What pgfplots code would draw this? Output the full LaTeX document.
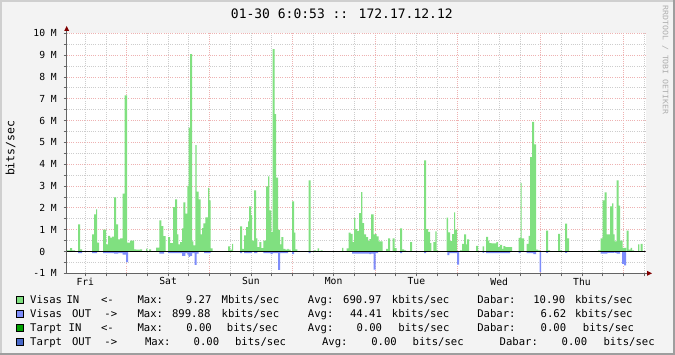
\documentclass[border=0pt]{standalone}
\usepackage{pgfplots}
\pgfplotsset{compat=1.18}
\usepackage{graphicx}
\usepackage{fontspec}
\newfontfamily\mono{DejaVu Sans Mono}
\newcommand\tickfont{\mono\fontsize{9.7}{11}\selectfont}
\newcommand\legfont{\mono\fontsize{10.6}{13}\selectfont}
\definecolor{bg}{RGB}{243,243,243}
\definecolor{shadea}{RGB}{207,207,207}
\definecolor{shadeb}{RGB}{158,158,158}
\definecolor{vgreen}{RGB}{128,224,128}
\definecolor{vblue}{RGB}{125,140,250}
\definecolor{tgreen}{RGB}{0,160,0}
\definecolor{tblue}{RGB}{72,104,200}
\definecolor{mgrid}{RGB}{238,178,178}
\definecolor{mingrid}{RGB}{205,205,205}
\definecolor{axisc}{RGB}{100,100,100}
\definecolor{arrowc}{RGB}{128,0,0}
\definecolor{wm}{RGB}{175,175,175}
\begin{document}
\begin{tikzpicture}[x=1pt,y=1pt]
\useasboundingbox (0,0) rectangle (675,355);
\fill[bg] (0,0) rectangle (675,355);
\fill[shadea] (0,0) rectangle (2,355);
\fill[shadea] (0,353) rectangle (675,355);
\fill[shadeb] (673,0) rectangle (675,355);
\fill[shadeb] (0,0) rectangle (675,2);

\node[anchor=base, inner sep=0pt, font=\mono\fontsize{13}{15}\selectfont] at (341.8,336.9) {01-30 6:0:53 :: 172.17.12.12};
\node[rotate=90, inner sep=0pt, font=\mono\fontsize{11.5}{13}\selectfont] at (10.5,206.7) {bits/sec};
\node[rotate=-90, inner sep=0pt, text=wm, font=\mono\fontsize{7.5}{8}\selectfont] at (665.3,295) {\scalebox{1.1}[1]{RRDTOOL / TOBI OETIKER}};

\begin{axis}[
  at={(66.7pt,81.7pt)}, anchor=south west,
  scale only axis, width=578.8pt, height=240pt,
  xmin=66.7, xmax=645.5, ymin=-1, ymax=10,
  axis line style={draw=none},
  axis background/.style={fill=white},
  xtick={126.7,209.5,292.2,375.0,457.8,540.6,623.3},
  xticklabels={},
  minor xtick={85.3,106.0,147.4,168.1,188.8,230.2,250.9,271.5,312.9,333.6,354.3,395.7,416.4,437.1,478.5,499.2,519.9,561.3,582.0,602.6,644.0},
  ytick={-1,0,1,2,3,4,5,6,7,8,9,10},
  yticklabels={-1 M,0{\phantom{\ M}},1 M,2 M,3 M,4 M,5 M,6 M,7 M,8 M,9 M,10 M},
  minor ytick={-0.5,0.5,1.5,2.5,3.5,4.5,5.5,6.5,7.5,8.5,9.5},
  grid=both,
  major grid style={color=mgrid, dash pattern=on 1pt off 1.2pt, line width=0.8pt},
  minor grid style={color=mingrid, dash pattern=on 1pt off 1.2pt, line width=0.8pt},
  tick pos=left, tick align=outside, major tick length=3pt, minor tick length=3pt,
  tick style={color=axisc, line width=0.8pt},
  ticklabel style={font=\tickfont},
  yticklabel style={anchor=east, inner sep=0pt, xshift=-6.7pt},
  extra x ticks={85.3,168.1,250.9,333.6,416.4,499.2,582.0},
  extra x tick labels={Fri,Sat,Sun,Mon,Tue,Wed,Thu},
  extra x tick style={grid=none, major tick length=0pt, xticklabel style={anchor=north, inner sep=0pt, yshift=-4.2pt}},
]
\addplot[const plot, fill=vgreen, draw=none] coordinates {
(66.7,0) (66.7,0.05) (70,0.15) (72,0.05) (75,0) (78,1.24) (80,0.1) (82,0) (92,0.78) (94,1.7) (96,1.93) (97,0.41) (99,0)
(103,1.0) (106,0.33) (108,0.72) (110,0.63) (112,0.68) (114,2.48) (116,1.24) (118,0.55) (120,0.6) (122.5,2.65) (124.7,7.16)
(127,0.41) (130,0.5) (134,0.1) (136,0.08) (140,0.1) (142,0) (146,0.13) (147.3,0) (149,0.1) (151,0) (156,0.18)
(159.3,1.42) (161.3,1.16) (163.3,0.7) (165.5,0) (168,0.66) (170,0.38) (173,2.03) (175,2.39) (177,0.78) (178.3,0.32)
(180,0.43) (182,1.06) (183.3,2.25) (185.3,1.74) (187.3,3.01) (188.7,5.68) (190,9.04) (192,0.46) (193.3,0.28) (195.3,4.87)
(196.7,2.74) (198.7,2.39) (200.7,0.78) (202,1.07) (203.3,1.29) (205.3,1.56) (208,2.92) (209.3,2.34) (210.7,0.14) (212.7,0)
(228,0.23) (230,0.08) (232,0.35) (233,0) (240,1.15) (242,0.12) (244,0.74) (246,1.12) (248,1.38) (249,2.07) (251,1.67)
(252,0.5) (254,2.8) (256,0.6) (257.3,0.2) (259.3,0.43) (261.3,0.15) (263.3,0.5) (266,2.98) (268,3.44) (269.3,1.88)
(271.3,0.89) (272.7,9.27) (274.7,6.29) (276,3.38) (278,0.99) (280,0.32) (281.3,0.66) (283.3,0.12) (285.3,0.08)
(287.3,0.12) (288.7,0.08) (290.7,0) (292,2.3) (294,0.86) (295.3,0.1) (297.3,0) (308.7,3.26) (310.7,0) (314,0.05) (316,0)
(317.7,0.14) (319,0) (320.7,0.05) (322.7,0) (342,0.17) (343.3,0) (346.7,0.14) (348.7,0.86) (350.7,0.81) (352.7,0.43)
(354,1.53) (355.3,1.02) (357,0.94) (359,1.76) (361,2.72) (362.3,1.3) (364,0.78) (366,0.66) (368,0.48) (369.3,0.57)
(371,1.7) (373.7,0.78) (375,0.8) (376.7,0.69) (378.7,0.46) (382.7,0) (386,0.12) (388,0.6) (390,0) (392.7,0.6) (394.7,0.15)
(396.7,0) (400,1.06) (402,0.1) (404,0.05) (406,0) (410,0.43) (412,0) (424,4.18) (426,1.02) (428,0.9) (430,0.38) (431.3,0)
(433.3,0.43) (435.3,0.92) (436.7,0.05) (438,0) (446.7,1.55) (448,0.87) (450,0.48) (452,0.8) (454,1.79) (455,1.0) (457,0)
(460,0.05) (462,0.35) (464,0.78) (466,0.32) (467,0.55) (469,0) (476,0.26) (478,0) (482.7,0.23) (484,0) (486,0.67) (488,0.5)
(489.3,0.38) (491.3,0.37) (496.3,0.43) (498,0.2) (500,0.3) (502,0.12) (503.3,0.25) (505.3,0.2) (512,0) (518.7,0.62)
(520.7,3.14) (521.7,0.6) (524,0) (526.7,0.35) (528.7,0.72) (530,4.33) (532,5.94) (534,4.91) (536,0.08) (538,0.05) (540,0)
(546,0.96) (548,0.05) (550,0) (558,0.81) (560,0.05) (562,0) (565,1.28) (567,0.6) (569,0) (598,0.05) (600.7,0.6)
(602.7,2.34) (604.7,2.71) (606.7,0.78) (610,2.07) (612,2.2) (613.3,0.78) (614.7,0.46) (616.7,3.26) (618.7,2.1) (620,0.5)
(622.7,0.17) (626,0) (626.7,0.96) (628.7,0.08) (630.7,0.17) (632,0.05) (634,0) (638,0.32) (639.3,0) (640.7,0.35) (642.7,0)
(645.5,0)
} -- cycle;
\addplot[const plot, fill=vblue, draw=none] coordinates {
(66.7,0) (78,-0.08) (82,0) (92,-0.08) (97,0) (103,-0.08) (114,-0.1) (118,-0.08) (122.5,-0.15) (126,-0.49) (128,0)
(159.3,-0.1) (164,0) (168,-0.08) (182,-0.2) (185.3,-0.08) (187.3,-0.15) (188.7,-0.25) (190,-0.2) (192,-0.08)
(194.7,-0.61) (196.7,-0.1) (198.7,0) (204,-0.08) (210.7,0) (240,-0.08) (242,0) (244,-0.08) (252,0) (254,-0.08) (257.3,0)
(263.3,-0.08) (270.7,-0.12) (272.7,-0.08) (278,-0.84) (280,-0.08) (288,0) (292,-0.12) (294,0) (308.7,-0.08) (310.7,0)
(352,-0.1) (369.3,-0.12) (371,-0.1) (373.7,-0.83) (375.7,-0.08) (378,0) (400,-0.07) (402,0) (424,-0.07) (426,0)
(447.3,-0.17) (449.3,-0.07) (457,-0.6) (459,0) (482.7,-0.06) (484,0) (486,-0.07) (510,0) (518.7,-0.07) (520.7,0)
(526.7,-0.07) (533.3,-0.12) (536,0) (539.5,-0.95) (541,0) (546,-0.06) (548,0) (565,-0.06) (567,0) (600.7,-0.1)
(607.3,-0.06) (614,0) (614.7,-0.06) (616.7,-0.1) (620,0) (622,-0.57) (624,-0.64) (626,0) (645.5,0)
} -- cycle;
\draw[black, line width=1.2pt] (axis cs:66.7,0) -- (axis cs:645.5,0);
\end{axis}

\draw[axisc, line width=1pt] (66.7,81.7) -- (66.7,324.5);
\fill[arrowc] (64.2,324) -- (69.2,324) -- (66.7,329) -- cycle;
\draw[axisc, line width=1pt] (66.7,81.7) -- (647,81.7);
\fill[arrowc] (647,79.2) -- (647,84.2) -- (652,81.7) -- cycle;

% legend
\foreach \yy/\cc in {51.5/vgreen,37.5/vblue,23.5/tgreen,9.5/tblue}
  \filldraw[fill=\cc, draw=black, line width=0.6pt] (16,\yy+0.2) rectangle (23,\yy+7.2);
\begin{scope}[every node/.style={anchor=base west, inner sep=0pt, font=\legfont}]
\foreach \x/\t in {30/Visas,66.3/IN,100.8/{<-},137.4/{Max:},185.7/{9.27},221.5/{Mbits/sec},307.7/{Avg:},343/{690.97},391.7/{kbits/sec},477.1/{Dabar:},533.1/{10.90},574.9/{kbits/sec}}
  \node at (\x,51.5) {\t};
\foreach \x/\t in {30/Visas,71.9/OUT,104.2/{->},137.4/{Max:},171.9/{899.88},221.5/{kbits/sec},307.7/{Avg:},349.9/{44.41},391.7/{kbits/sec},477.1/{Dabar:},540.5/{6.62},574.9/{kbits/sec}}
  \node at (\x,37.5) {\t};
\foreach \x/\t in {30/Tarpt,68.5/IN,100.8/{<-},137.4/{Max:},186.1/{0.00},226.7/{bits/sec},307.7/{Avg:},356.4/{0.00},398.2/{bits/sec},477.1/{Dabar:},540.5/{0.00},582.7/{bits/sec}}
  \node at (\x,23.5) {\t};
\foreach \x/\t in {30/Tarpt,71.9/OUT,104.2/{->},144.8/{Max:},193.5/{0.00},234.8/{bits/sec},321.9/{Avg:},371.1/{0.00},412.5/{bits/sec},499.5/{Dabar:},561.5/{0.00},603.4/{bits/sec}}
  \node at (\x,9.5) {\t};
\end{scope}
\end{tikzpicture}
\end{document}
